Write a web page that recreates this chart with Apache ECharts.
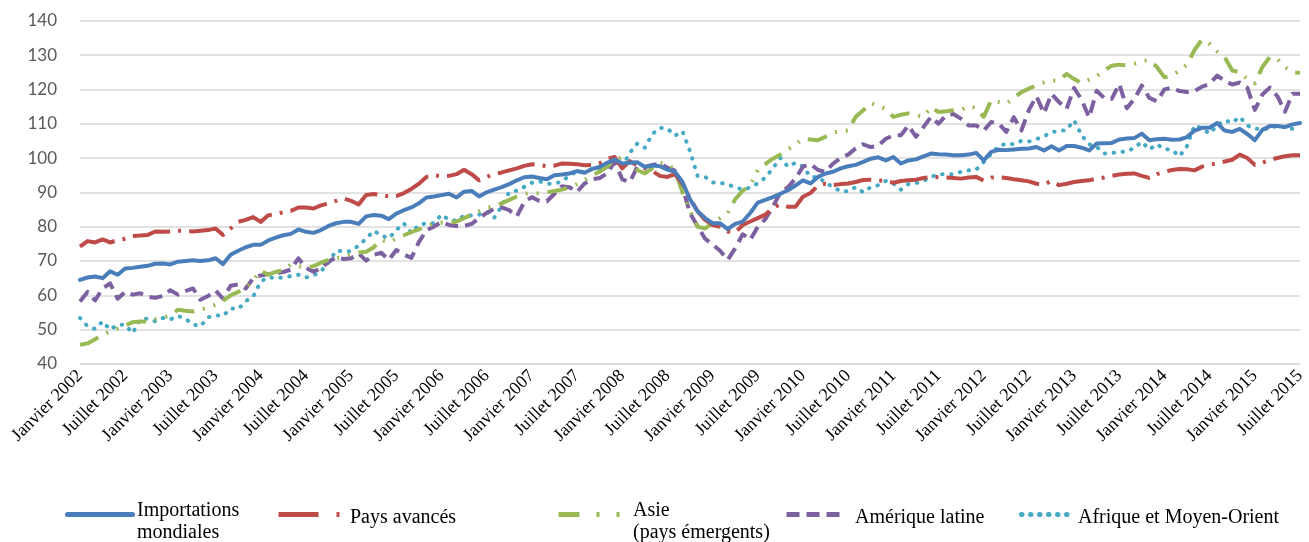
<!DOCTYPE html>
<html><head><meta charset="utf-8">
<script src="https://cdn.jsdelivr.net/npm/echarts@6/dist/echarts.min.js"></script>
<style>html,body{margin:0;padding:0;background:#fff}#c{width:1309px;height:542px}</style>
</head><body><div id="c"></div>
<script>
// Tick labels (every 6 months)
const tickLabels = ["Janvier 2002","Juillet 2002","Janvier 2003","Juillet 2003","Janvier 2004","Juillet 2004","Janvier 2005","Juillet 2005","Janvier 2006","Juillet 2006","Janvier 2007","Juillet 2007","Janvier 2008","Juillet 2008","Janvier 2009","Juillet 2009","Janvier 2010","Juillet 2010","Janvier 2011","Juillet 2011","Janvier 2012","Juillet 2012","Janvier 2013","Juillet 2013","Janvier 2014","Juillet 2014","Janvier 2015","Juillet 2015"];
const monthNames = ["Janvier","Février","Mars","Avril","Mai","Juin","Juillet","Août","Septembre","Octobre","Novembre","Décembre"];
const startYear = 2002, nMonths = 163; // Janvier 2002 .. Juillet 2015

const importationsMondiales = [64.5,65.2,65.5,65.0,67.0,66.0,67.8,68.0,68.3,68.6,69.2,69.3,69.0,69.8,70.0,70.2,70.0,70.2,70.8,69.1,71.8,73.0,74.0,74.7,
74.7,76.0,76.8,77.5,77.9,79.2,78.5,78.2,79.0,80.2,81.0,81.4,81.4,80.8,83.0,83.4,83.2,82.2,83.8,84.8,85.6,86.8,88.5,
88.8,89.2,89.6,88.5,90.2,90.4,88.8,90.0,90.8,91.5,92.4,93.5,94.4,94.6,94.2,93.8,95.0,95.2,95.5,96.2,95.7,96.8,97.4,
98.6,99.6,98.4,98.6,98.8,97.4,97.8,97.6,96.6,96.0,93.0,88.0,84.5,82.5,81.0,81.0,79.3,80.8,81.5,84.0,87.0,87.8,88.6,
89.6,90.6,92.0,93.5,92.6,94.5,95.5,96.0,97.0,97.6,98.0,98.9,99.8,100.2,99.3,100.3,98.4,99.3,99.6,100.5,101.3,101.1,101.0,100.8,
100.8,101.0,101.5,99.3,101.8,102.4,102.3,102.5,102.7,102.8,103.2,102.2,103.4,102.2,103.5,103.5,103.0,102.2,104.2,104.3,104.4,105.4,105.7,
105.8,107.1,105.2,105.5,105.6,105.3,105.4,106.1,108.0,108.8,108.8,110.2,108.0,107.6,108.5,107.0,105.2,108.2,109.3,109.3,109.0,109.8,110.2];

const paysAvances = [74.2,75.8,75.4,76.3,75.4,76.1,76.5,77.3,77.4,77.6,78.6,78.5,78.6,78.8,78.8,78.6,78.8,79.0,79.5,77.6,79.5,81.4,82.0,82.8,
81.4,83.3,83.7,84.2,84.6,85.6,85.6,85.3,86.2,86.8,87.5,88.2,87.5,86.5,89.2,89.5,89.2,88.8,88.9,89.8,91.0,92.5,94.5,
95.0,94.7,94.8,95.3,96.6,95.3,93.5,94.5,95.3,95.8,96.4,97.0,97.7,98.2,98.0,97.6,97.8,98.4,98.3,98.2,97.9,98.0,98.5,
99.8,100.3,97.0,99.1,97.8,97.0,96.2,94.8,94.5,95.3,92.5,88.2,84.5,82.0,80.5,80.0,78.6,78.3,80.5,81.5,82.5,83.5,85.5,
86.5,85.8,85.8,88.7,89.8,92.0,92.5,92.1,92.4,92.6,93.0,93.6,93.7,93.5,93.3,92.8,93.3,93.5,93.7,94.2,94.5,94.4,94.3,94.2,
94.0,94.3,94.5,93.4,94.3,94.4,94.2,93.8,93.5,93.2,92.5,92.3,93.3,92.1,92.5,93.0,93.3,93.5,94.0,94.3,94.8,95.2,95.4,
95.5,94.8,94.2,95.3,96.0,96.5,96.8,96.7,96.4,97.5,98.0,98.5,99.0,99.5,101.0,100.0,98.0,98.6,99.5,100.0,100.5,100.8,100.8];

const asieEmergents = [45.6,46.0,47.2,48.5,49.5,50.3,51.2,52.2,52.4,52.4,53.0,53.5,54.2,55.8,55.5,55.3,55.8,56.5,57.2,58.5,60.0,61.0,62.2,64.5,
67.2,66.0,66.8,67.4,69.0,68.5,68.0,68.5,69.5,70.3,70.8,71.3,72.0,72.5,72.7,74.0,76.2,75.4,76.6,77.5,78.4,79.2,80.0,
81.0,81.2,81.0,81.5,82.5,83.5,84.5,85.5,85.8,86.8,87.8,88.8,89.6,89.8,89.7,90.0,90.4,90.8,91.6,92.4,93.5,95.0,96.0,
97.5,99.3,100.3,98.5,96.5,95.5,97.0,98.6,98.2,96.5,90.0,84.5,80.0,79.5,81.0,82.5,83.9,88.0,90.5,92.0,96.5,98.2,99.8,
101.0,102.5,104.0,105.6,105.4,105.2,106.2,107.4,107.8,108.0,112.0,113.9,116.0,115.2,114.3,112.0,112.6,113.0,112.5,112.0,114.8,113.4,113.6,113.9,
114.0,115.2,114.5,112.0,116.8,116.3,115.8,117.5,119.2,120.2,121.2,122.0,122.6,122.6,124.5,123.0,121.8,122.8,123.8,125.5,126.9,127.2,127.0,
127.5,128.3,128.5,126.5,123.5,124.0,125.5,127.2,131.5,134.5,133.2,131.0,129.4,125.5,125.0,123.0,121.8,126.5,129.4,128.8,126.5,125.0,124.8];

const ameriqueLatine = [58.2,61.0,58.5,62.0,63.5,59.0,61.0,60.2,60.6,59.6,59.3,59.8,61.5,60.2,61.2,62.0,58.7,59.8,61.4,59.0,62.8,63.2,62.0,65.0,
65.8,66.2,66.5,66.8,67.5,70.8,68.0,66.9,67.8,69.8,71.1,70.6,70.8,72.2,70.1,71.8,72.4,70.3,73.2,71.9,70.9,75.5,79.0,
80.0,81.4,80.5,80.2,80.2,80.8,82.5,84.0,85.2,85.6,84.8,83.0,87.2,88.6,87.5,87.4,89.6,91.8,91.5,90.1,92.6,93.8,94.2,
95.5,99.0,93.8,93.0,97.4,97.4,98.0,98.4,97.2,96.3,91.6,83.9,80.2,76.5,74.8,73.0,70.3,73.7,77.8,76.2,80.0,82.2,85.8,
89.9,91.5,94.0,97.5,98.2,96.5,96.0,98.4,100.0,101.0,102.8,104.0,103.2,103.6,105.6,106.6,106.6,109.5,106.2,109.0,112.0,110.0,112.4,112.8,
111.4,109.5,109.5,108.0,110.5,110.0,107.6,111.9,108.0,114.0,118.0,113.0,118.7,116.3,114.3,120.4,117.0,111.8,119.6,117.5,117.2,121.6,114.5,
117.2,121.1,117.5,116.5,120.0,120.5,119.5,119.2,119.5,120.8,121.6,124.0,122.5,121.4,122.0,120.5,114.0,118.5,120.5,118.0,113.5,118.7,118.7];

const afriqueMoyenOrient = [53.4,51.0,50.2,52.4,50.0,51.4,51.4,49.0,53.0,53.2,52.4,53.4,53.0,54.0,53.2,51.5,51.0,53.6,54.2,54.0,56.2,56.0,58.3,59.7,
64.0,65.3,65.0,65.2,65.6,66.0,65.2,65.8,67.0,69.5,73.0,72.8,72.9,74.5,76.5,78.8,77.5,76.6,79.0,81.0,78.2,80.5,81.0,
81.0,83.5,82.0,81.7,83.2,83.3,83.5,84.4,82.6,86.0,90.1,90.5,91.6,92.8,93.2,92.5,92.6,93.1,95.0,96.0,96.0,96.8,96.6,
97.3,98.9,97.4,101.5,104.2,103.0,107.0,108.8,108.6,106.5,107.8,102.0,94.8,94.5,92.9,92.8,92.3,91.5,90.8,91.4,92.6,94.3,97.0,
100.0,97.5,98.6,97.6,94.5,94.5,92.8,91.5,90.3,90.3,91.5,90.0,91.5,92.1,93.3,92.6,90.8,92.4,92.7,93.3,94.5,95.3,95.3,95.3,
96.0,96.4,96.6,98.8,101.2,103.5,104.2,104.0,105.0,104.8,105.5,106.3,107.6,107.8,108.2,111.0,106.6,104.0,103.3,101.3,101.4,101.9,101.8,
103.0,104.7,102.5,104.0,102.6,102.4,100.5,103.5,109.5,108.6,107.1,109.5,111.0,110.3,112.0,109.5,108.5,108.5,108.5,109.5,109.0,108.5,109.0];

const seriesNames = ["Importations\nmondiales","Pays avancés","Asie\n(pays émergents)","Amérique latine","Afrique et Moyen-Orient"];

const categories = [];
for (let i = 0; i < nMonths; i++) {
  categories.push(monthNames[i % 12] + " " + (startYear + Math.floor(i / 12)));
}

const colors = ["#4A7EBB","#BE4B48","#98B954","#7D60A0","#46AAC5"];
const dashes = ["solid",[38,8,3,8],[20,9,2,9,2,9],[13,7],[0.5,8.5]];
const legendDashes = ["solid",[40,18,3,40],[21,17,3,17,3,40],[13,7],[0.5,8.5]];
const caps = ["round","butt","butt","butt","round"];
const datas = [importationsMondiales, paysAvances, asieEmergents, ameriqueLatine, afriqueMoyenOrient];

const series = datas.map((d, k) => ({
  name: seriesNames[k],
  type: "line",
  data: d,
  symbol: "none",
  smooth: false,
  z: 10 - k,
  lineStyle: { color: colors[k], width: 4, type: dashes[k], cap: caps[k], join: "round" },
  itemStyle: { color: colors[k] }
}));

// Legend: one icon-only component and one text-only component per series
const iconLeft = [60, 271, 551, 779, 1014];
const iconWidths = [65, 62, 62, 53, 48];
const textLeft = [127, 340, 623, 845, 1068];
const twoLine = [true, false, true, false, false];
const legends = [];
seriesNames.forEach((n, k) => {
  legends.push({
    data: [n],
    left: iconLeft[k],
    top: 504,
    itemWidth: iconWidths[k],
    itemHeight: 14,
    selectedMode: false,
    formatter: () => "",
    itemStyle: { opacity: 0 },
    lineStyle: { width: 5, type: legendDashes[k], cap: caps[k] },
    textStyle: { fontSize: 10, lineHeight: 14 }
  });
  legends.push({
    data: [n],
    left: textLeft[k],
    top: twoLine[k] ? 495 : 502,
    icon: "none",
    itemWidth: 0,
    itemHeight: 14,
    selectedMode: false,
    textStyle: { fontFamily: "Liberation Serif", fontSize: 20, color: "#000", lineHeight: 22 }
  });
});

const chart = echarts.init(document.getElementById("c"), null, { renderer: "canvas" });
chart.setOption({
  animation: false,
  backgroundColor: "#fff",
  grid: { left: 80, right: 9, top: 20.7, bottom: 178 },
  legend: legends,
  xAxis: {
    type: "category",
    data: categories,
    boundaryGap: false,
    axisLine: { show: true, lineStyle: { color: "#D9D9D9", width: 1 } },
    axisTick: { show: false },
    axisLabel: {
      interval: 5,
      rotate: 45,
      margin: 9,
      fontFamily: "Liberation Serif",
      fontSize: 18,
      color: "#000"
    },
    splitLine: { show: false }
  },
  yAxis: {
    type: "value",
    min: 40, max: 140, interval: 10,
    axisLine: { show: false },
    axisTick: { show: false },
    axisLabel: { margin: 23, fontFamily: "Lato", fontSize: 17, color: "#595959" },
    splitLine: { lineStyle: { color: "#D9D9D9", width: 1.5 } }
  },
  series: series
});
</script>
</body></html>
